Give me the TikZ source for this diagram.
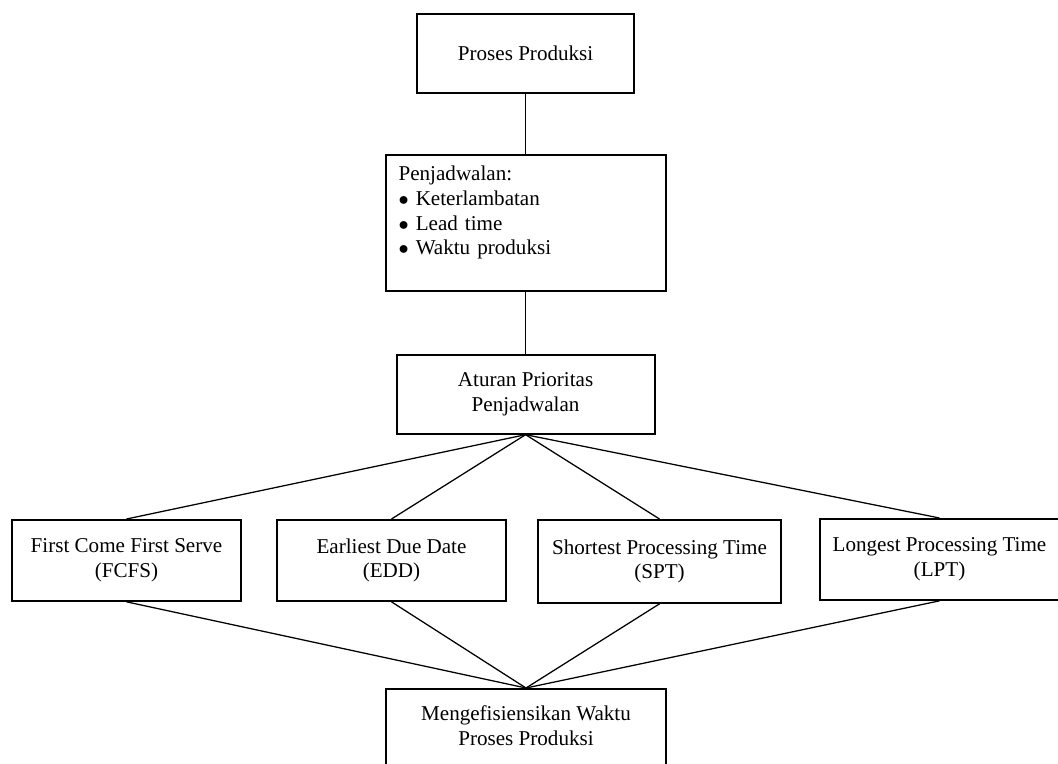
\documentclass[tikz,border=0pt]{standalone}
\usepackage{fontspec}
\setmainfont{Liberation Serif}
\usepackage{tikz}
\usetikzlibrary{positioning}

\begin{document}
\begin{tikzpicture}[
        every node/.style={font=\fontsize{15}{17.6}\selectfont},
        box/.style={rectangle, draw, line width=1.3pt, align=center,
        minimum height=1.975cm, inner sep=2pt},
        listbox/.style={rectangle, draw, line width=1.3pt, align=left,
        text width=6.35cm, inner xsep=0.325cm, minimum height=3.4cm},
        link/.style={draw, line width=0.9pt},
      ]

      \useasboundingbox (0,0) rectangle (26.45,-19.075);

      \node[box, minimum width=5.425cm] (prod) at (13.14,-1.34)
        {Proses Produksi};
      \node[listbox, below=1.5cm of prod] (jadwal)
        {Penjadwalan:\\ $\bullet$ Keterlambatan\\ $\bullet$ Lead time\\
        $\bullet$ Waktu produksi\\ \mbox{}};
      \node[box, minimum width=6.45cm, below=1.55cm of jadwal] (aturan)
        {Aturan Prioritas\\Penjadwalan};

      \node[box, minimum width=5.725cm, minimum height=2.025cm, anchor=north]
        (fcfs) at (3.1625,-12.975) {First Come First Serve\\(FCFS)};
      \node[box, minimum width=5.725cm, minimum height=2.025cm, anchor=north]
        (edd) at (9.7875,-12.975) {Earliest Due Date\\(EDD)};
      \node[box, minimum width=6.075cm, minimum height=2.075cm, anchor=north]
        (spt) at (16.4875,-12.975) {Shortest Processing Time\\(SPT)};
      \node[box, minimum width=5.975cm, minimum height=2.025cm, anchor=north]
        (lpt) at (23.4875,-12.95) {Longest Processing Time\\(LPT)};

      \node[box, minimum width=7cm, minimum height=2.45cm, anchor=north]
        (hasil) at (13.15,-17.2) {Mengefisiensikan Waktu\\Proses Produksi\\ \mbox{}};

      \draw[link] (prod.south) -- (jadwal.north);
      \draw[link] (jadwal.south) -- (aturan.north);
      \foreach \rule in {fcfs, edd, spt, lpt} {
        \draw[link] (aturan.south) -- (\rule.north);
        \draw[link] (\rule.south) -- (hasil.north);
      }

    \end{tikzpicture}
\end{document}
